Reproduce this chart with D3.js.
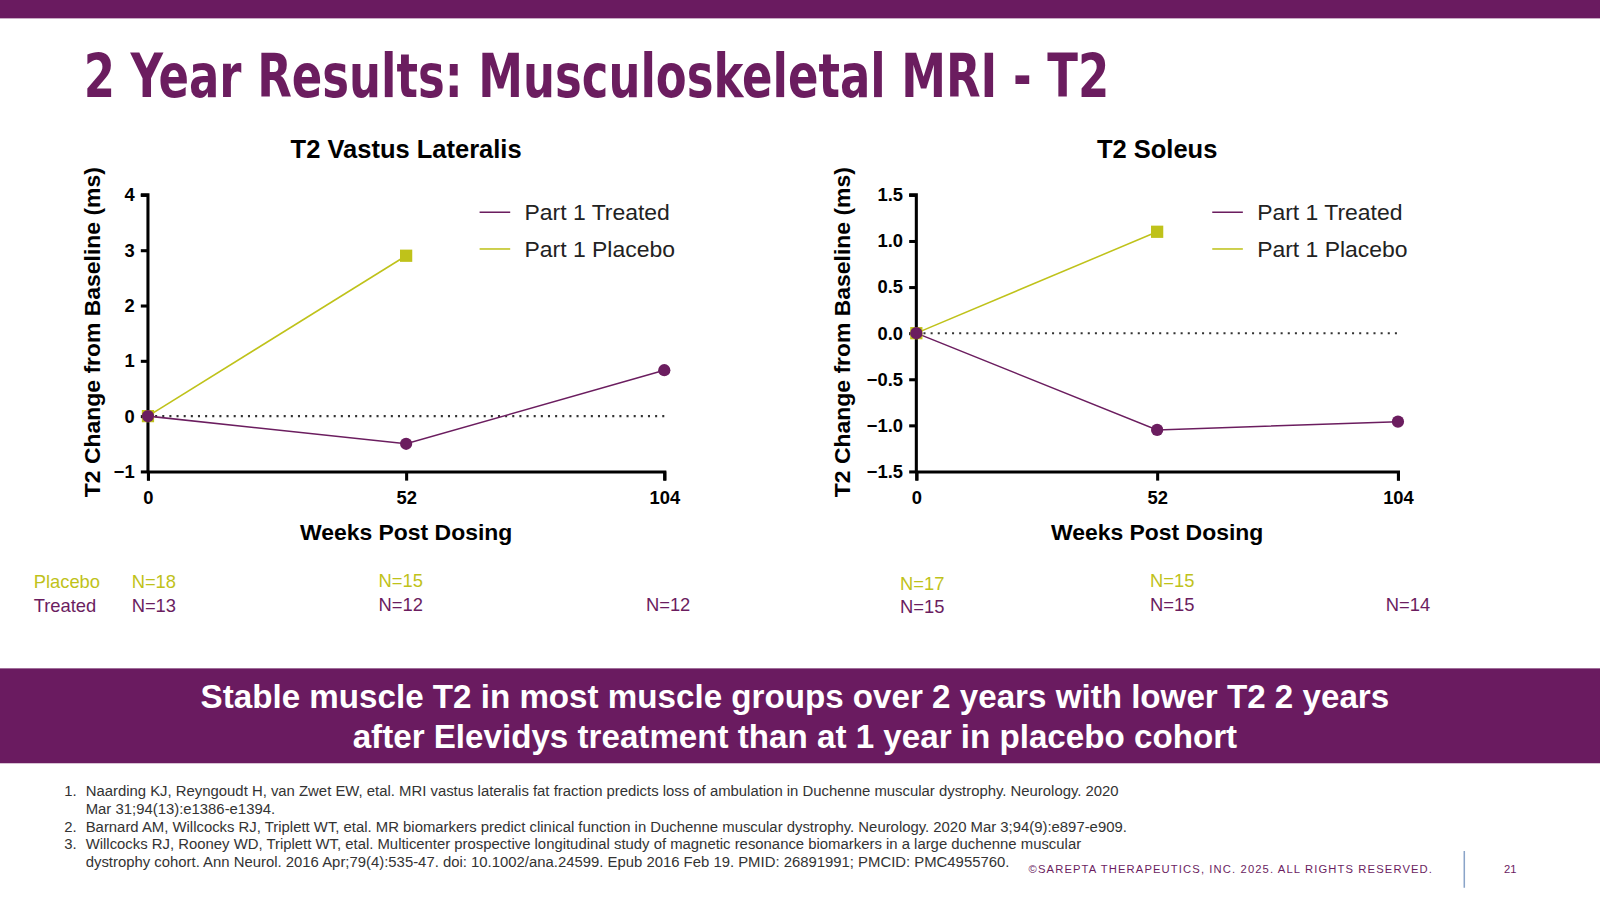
<!DOCTYPE html>
<html><head><meta charset="utf-8">
<script src="https://cdn.jsdelivr.net/npm/d3@7"></script>
<style>body{margin:0;background:#fff}svg{display:block}</style>
</head><body>
<svg id="svg1" width="1600" height="900" viewBox="0 0 1568 882"></svg>
<script>
const weeks = [0, 52, 104];
const vlTreated = [0, -0.5, 0.83];
const vlPlacebo = [0, 2.9];
const solTreated = [0, -1.05, -0.96];
const solPlacebo = [0, 1.1];
const vlTicks = [-1, 0, 1, 2, 3, 4];
const solTicks = [-1.5, -1.0, -0.5, 0.0, 0.5, 1.0, 1.5];
const purple = "#6b1d5f", lime = "#bfc21a";

const svg = d3.select("#svg1");
svg.append("rect").attr("width", 1568).attr("height", 18).attr("fill", "#6a1b60");
svg.append("text").attr("x", 82).attr("y", 95).text("2 Year Results: Musculoskeletal MRI - T2")
  .attr("font-family", "'Liberation Sans Narrow','DejaVu Sans Condensed',sans-serif")
  .attr("textLength", 1005).attr("lengthAdjust", "spacingAndGlyphs")
  .attr("font-weight", "bold").attr("font-size", 60).attr("fill", purple);

function chart(opt) {
  const x = d3.scaleLinear().domain([0, 104]).range([opt.x0, opt.x1]);
  const y = d3.scaleLinear().domain(opt.ydom).range([462, 191]);
  const g = svg.append("g").attr("font-family", "Arial, 'Liberation Sans', sans-serif");
  g.append("text").attr("x", (opt.x0 + opt.x1) / 2).attr("y", 155).attr("text-anchor", "middle")
    .attr("font-weight", "bold").attr("font-size", 25).text(opt.title);
  const ya = g.append("g").attr("transform", `translate(${opt.x0},0)`)
    .call(d3.axisLeft(y).tickValues(opt.ticks).tickFormat(opt.fmt).tickSize(7).tickPadding(6));
  const xa = g.append("g").attr("transform", `translate(0,462)`)
    .call(d3.axisBottom(x).tickValues(weeks).tickSize(9).tickPadding(10));
  [ya, xa].forEach(a => {
    a.selectAll("path,line").attr("stroke-width", 3).attr("stroke", "#000");
    a.selectAll("text").attr("font-size", 18).attr("font-weight", "bold").attr("font-family", "Arial, sans-serif");
  });
  ya.select(".domain").attr("d", `M-7,${y(opt.ydom[1])}H0V462`);
  g.append("text").attr("transform", `translate(${opt.labX},${(163 + 488) / 2}) rotate(-90)`)
    .attr("text-anchor", "middle").attr("font-weight", "bold").attr("font-size", 22.5)
    .text("T2 Change from Baseline (ms)");
  g.append("text").attr("x", (opt.x0 + opt.x1) / 2).attr("y", 529).attr("text-anchor", "middle")
    .attr("font-weight", "bold").attr("font-size", 22.5).text("Weeks Post Dosing");
  g.append("line").attr("x1", x(0)).attr("x2", x(104)).attr("y1", y(0)).attr("y2", y(0))
    .attr("stroke", "#333").attr("stroke-width", 2).attr("stroke-dasharray", "2,5");
  const line = d3.line().x((d, i) => x(weeks[i])).y(d => y(d));
  g.append("path").attr("d", line(opt.placebo)).attr("fill", "none").attr("stroke", lime).attr("stroke-width", 1.5);
  g.append("path").attr("d", line(opt.treated)).attr("fill", "none").attr("stroke", purple).attr("stroke-width", 1.5);
  g.selectAll(".pl").data(opt.placebo).join("rect")
    .attr("x", (d, i) => x(weeks[i]) - 6).attr("y", d => y(d) - 6).attr("width", 12).attr("height", 12).attr("fill", lime);
  g.selectAll(".tr").data(opt.treated).join("circle")
    .attr("cx", (d, i) => x(weeks[i])).attr("cy", d => y(d)).attr("r", 6).attr("fill", purple);
  [["Part 1 Treated", purple, 208], ["Part 1 Placebo", lime, 244]].forEach(([t, c, yy]) => {
    g.append("line").attr("x1", opt.lx).attr("x2", opt.lx + 30).attr("y1", yy).attr("y2", yy).attr("stroke", c).attr("stroke-width", 1.5);
    g.append("text").attr("x", opt.lx + 44).attr("y", yy + 8).attr("font-size", 22.5).attr("fill", "#222").text(t);
  });
}
chart({x0: 145, x1: 651, ydom: [-1, 4], ticks: vlTicks, fmt: d3.format("d"), title: "T2 Vastus Lateralis",
  treated: vlTreated, placebo: vlPlacebo, lx: 470, labX: 98});
chart({x0: 898, x1: 1370, ydom: [-1.5, 1.5], ticks: solTicks, fmt: d3.format(".1f"), title: "T2 Soleus",
  treated: solTreated, placebo: solPlacebo, lx: 1188, labX: 833});

const nLabels = [
  ["Placebo", 33, 576, lime], ["Treated", 33, 600, purple],
  ["N=18", 129, 576, lime], ["N=13", 129, 600, purple],
  ["N=15", 371, 575, lime], ["N=12", 371, 599, purple], ["N=12", 633, 599, purple],
  ["N=17", 882, 578, lime], ["N=15", 882, 601, purple],
  ["N=15", 1127, 575, lime], ["N=15", 1127, 599, purple], ["N=14", 1358, 599, purple]
];
svg.selectAll(".n").data(nLabels).join("text").attr("x", d => d[1]).attr("y", d => d[2])
  .attr("fill", d => d[3]).attr("font-size", 18).attr("font-family", "Arial, sans-serif").text(d => d[0]);

svg.append("rect").attr("y", 655).attr("width", 1568).attr("height", 93).attr("fill", "#6a1b60");
["Stable muscle T2 in most muscle groups over 2 years with lower T2 2 years",
 "after Elevidys treatment than at 1 year in placebo cohort"].forEach((t, i) =>
  svg.append("text").attr("x", 779).attr("y", 694 + i * 39).attr("text-anchor", "middle").attr("fill", "#fff")
    .attr("font-family", "Arial, sans-serif").attr("font-weight", "bold").attr("font-size", 32.5).text(t));

const refs = [
  ["1.", "Naarding KJ, Reyngoudt H, van Zwet EW, etal. MRI vastus lateralis fat fraction predicts loss of ambulation in Duchenne muscular dystrophy. Neurology. 2020"],
  ["", "Mar 31;94(13):e1386-e1394."],
  ["2.", "Barnard AM, Willcocks RJ, Triplett WT, etal. MR biomarkers predict clinical function in Duchenne muscular dystrophy. Neurology. 2020 Mar 3;94(9):e897-e909."],
  ["3.", "Willcocks RJ, Rooney WD, Triplett WT, etal. Multicenter prospective longitudinal study of magnetic resonance biomarkers in a large duchenne muscular"],
  ["", "dystrophy cohort. Ann Neurol. 2016 Apr;79(4):535-47. doi: 10.1002/ana.24599. Epub 2016 Feb 19. PMID: 26891991; PMCID: PMC4955760."]
];
refs.forEach((r, i) => {
  const t = svg.append("g").attr("font-family", "Arial, sans-serif").attr("font-size", 14.6).attr("fill", "#333");
  t.append("text").attr("x", 63).attr("y", 780 + i * 17.5).text(r[0]);
  t.append("text").attr("x", 84).attr("y", 780 + i * 17.5).text(r[1]);
});
svg.append("text").attr("x", 1008).attr("y", 856).attr("font-family", "Arial, sans-serif").attr("font-size", 11)
  .attr("letter-spacing", 1.1).attr("fill", purple).text("©SAREPTA THERAPEUTICS, INC. 2025.  ALL RIGHTS RESERVED.");
svg.append("line").attr("x1", 1435).attr("x2", 1435).attr("y1", 834).attr("y2", 870).attr("stroke", "#8aa4c8").attr("stroke-width", 1.5);
svg.append("text").attr("x", 1474).attr("y", 856).attr("font-family", "Arial, sans-serif").attr("font-size", 11).attr("fill", purple).text("21");
</script>
</body></html>
